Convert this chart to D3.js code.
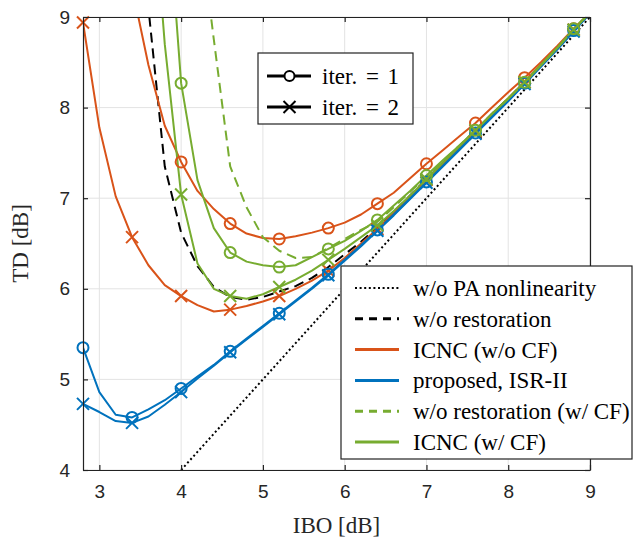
<!DOCTYPE html>
<html>
<head>
<meta charset="utf-8">
<script src="https://cdn.jsdelivr.net/npm/d3@7"></script>
<style>
  body { margin: 0; background: #fff; }
  svg { display: block; }
</style>
</head>
<body>
<div id="chart"></div>
<script>
// IBO grid (dB), one point every 0.2 dB; markers every third point
const ibo = [2.8, 3.0, 3.2, 3.4, 3.6, 3.8, 4.0, 4.2, 4.4, 4.6, 4.8, 5.0, 5.2, 5.4, 5.6, 5.8,
             6.0, 6.2, 6.4, 6.6, 6.8, 7.0, 7.2, 7.4, 7.6, 7.8, 8.0, 8.2, 8.4, 8.6, 8.8, 9.0];

const noPaX = [4, 9];
const noPaY = [4, 9];

const woRestoration = [null, null, null, 12.0, 9.1, 7.35, 6.62, 6.25, 6.02, 5.91, 5.88, 5.91, 5.97, 6.03, 6.12, 6.24,
                       6.38, 6.52, 6.68, 6.85, 7.03, 7.21, 7.39, 7.57, 7.75, 7.93, 8.1, 8.28, 8.47, 8.66, 8.86, 9.05];

const icncIter1 = [null, null, null, 9.33, 8.47, 7.8, 7.40, 7.08, 6.88, 6.72, 6.61, 6.56, 6.55, 6.58, 6.62, 6.67,
                   6.73, 6.82, 6.94, 7.06, 7.22, 7.38, 7.53, 7.68, 7.83, 8.0, 8.17, 8.33, 8.5, 8.68, 8.87, 9.04];
const icncIter2 = [8.94, 7.78, 7.02, 6.57, 6.26, 6.04, 5.92, 5.82, 5.75, 5.77, 5.81, 5.86, 5.92, 6.0, 6.09, 6.2,
                   6.34, 6.5, 6.66, 6.84, 7.02, 7.2, 7.38, 7.56, 7.74, 7.92, 8.1, 8.28, 8.47, 8.66, 8.86, 9.05];

const isrIter1 = [5.35, 4.86, 4.61, 4.58, 4.67, 4.77, 4.90, 5.03, 5.16, 5.31, 5.45, 5.59, 5.73, 5.87, 6.01, 6.16,
                  6.32, 6.48, 6.65, 6.82, 7.0, 7.18, 7.36, 7.54, 7.72, 7.9, 8.08, 8.27, 8.46, 8.65, 8.85, 9.04];
const isrIter2 = [4.73, 4.64, 4.54, 4.52, 4.59, 4.72, 4.86, 5.01, 5.15, 5.30, 5.44, 5.58, 5.72, 5.86, 6.0, 6.15,
                  6.31, 6.47, 6.64, 6.81, 6.99, 7.17, 7.35, 7.53, 7.71, 7.89, 8.07, 8.26, 8.45, 8.64, 8.84, 9.04];

const woRestorationCF = [null, null, null, null, null, null, null, 10.2, 8.75, 7.35, 6.9, 6.57, 6.42, 6.34, 6.35, 6.45,
                         6.55, 6.65, 6.74, 6.9, 7.07, 7.24, 7.41, 7.58, 7.75, 7.93, 8.1, 8.28, 8.47, 8.66, 8.86, 9.05];

const icncCFIter1 = [null, null, null, null, null, 10.7, 8.27, 7.2, 6.67, 6.40, 6.30, 6.26, 6.24, 6.26, 6.35, 6.44,
                     6.53, 6.64, 6.76, 6.92, 7.08, 7.25, 7.42, 7.58, 7.75, 7.93, 8.1, 8.28, 8.47, 8.66, 8.87, 9.05];
const icncCFIter2 = [null, null, null, null, 11.0, 8.7, 7.04, 6.28, 6.0, 5.92, 5.89, 5.94, 6.02, 6.1, 6.2, 6.32,
                     6.44, 6.57, 6.7, 6.86, 7.03, 7.21, 7.39, 7.57, 7.75, 7.93, 8.1, 8.28, 8.47, 8.66, 8.86, 9.05];

const xTicks = [3, 4, 5, 6, 7, 8, 9];
const yTicks = [4, 5, 6, 7, 8, 9];

const legendLabels = ['w/o PA nonlinearity', 'w/o restoration', 'ICNC (w/o CF)',
                      'proposed, ISR-II', 'w/o restoration (w/ CF)', 'ICNC (w/ CF)'];
const iterLabels = ['iter. = 1', 'iter. = 2'];

const colors = {
    black: '#000000',
    orange: '#D95319',
    blue: '#0072BD',
    green: '#77AC30'
};

const width = 643, height = 540;
const margin = { top: 17, right: 53, bottom: 70, left: 83 };

const svg = d3.select('#chart')
    .append('svg')
    .attr('width', width)
    .attr('height', height);

const x = d3.scaleLinear().domain([2.8, 9]).range([margin.left, width - margin.right]);
const y = d3.scaleLinear().domain([4, 9]).range([height - margin.bottom, margin.top]);

// grid
svg.append('g')
    .selectAll('line')
    .data(xTicks)
    .enter()
    .append('line')
    .attr('x1', d => x(d)).attr('x2', d => x(d))
    .attr('y1', y(4)).attr('y2', y(9))
    .attr('stroke', '#e3e3e3')
    .attr('stroke-width', 1);

svg.append('g')
    .selectAll('line')
    .data(yTicks)
    .enter()
    .append('line')
    .attr('x1', x(2.8)).attr('x2', x(9))
    .attr('y1', d => y(d)).attr('y2', d => y(d))
    .attr('stroke', '#e3e3e3')
    .attr('stroke-width', 1);

svg.append('clipPath')
    .attr('id', 'plotClip')
    .append('rect')
    .attr('x', x(2.8))
    .attr('y', y(9))
    .attr('width', x(9) - x(2.8))
    .attr('height', y(4) - y(9));

const plot = svg.append('g').attr('clip-path', 'url(#plotClip)');
const markerLayer = svg.append('g');

const line = d3.line()
    .defined(d => d[1] !== null)
    .x(d => x(d[0]))
    .y(d => y(d[1]));

function pairs(values) {
    return ibo.map((v, i) => [v, values[i]]);
}

function drawSeries(values, color, dash, marker) {
    plot.append('path')
        .datum(pairs(values))
        .attr('d', line)
        .attr('fill', 'none')
        .attr('stroke', color)
        .attr('stroke-width', 2)
        .attr('stroke-dasharray', dash)
        .attr('stroke-linejoin', 'round');

    if (!marker) return;
    // markers are not clipped (like matlab) but only those inside the y range
    const pts = pairs(values).filter((d, i) => i % 3 === 0 && d[1] !== null && d[1] <= 9);
    drawMarkers(markerLayer, pts.map(d => [x(d[0]), y(d[1])]), color, marker);
}

function drawMarkers(g, pts, color, marker) {
    if (marker === 'o') {
        g.append('g')
            .selectAll('circle')
            .data(pts)
            .enter()
            .append('circle')
            .attr('cx', d => d[0])
            .attr('cy', d => d[1])
            .attr('r', 5.5)
            .attr('fill', 'none')
            .attr('stroke', color)
            .attr('stroke-width', 2);
    } else {
        const s = 6;
        g.append('g')
            .selectAll('path')
            .data(pts)
            .enter()
            .append('path')
            .attr('d', d => 'M' + (d[0] - s) + ',' + (d[1] - s) + 'L' + (d[0] + s) + ',' + (d[1] + s) +
                            'M' + (d[0] - s) + ',' + (d[1] + s) + 'L' + (d[0] + s) + ',' + (d[1] - s))
            .attr('fill', 'none')
            .attr('stroke', color)
            .attr('stroke-width', 2);
    }
}

// w/o PA nonlinearity
plot.append('path')
    .datum(noPaX.map((v, i) => [v, noPaY[i]]))
    .attr('d', line)
    .attr('fill', 'none')
    .attr('stroke', colors.black)
    .attr('stroke-width', 2)
    .attr('stroke-dasharray', '2,2.6');

drawSeries(woRestoration, colors.black, '10,6', null);
drawSeries(icncIter1, colors.orange, null, 'o');
drawSeries(icncIter2, colors.orange, null, 'x');
drawSeries(isrIter1, colors.blue, null, 'o');
drawSeries(isrIter2, colors.blue, null, 'x');
drawSeries(woRestorationCF, colors.green, '10,6', null);
drawSeries(icncCFIter1, colors.green, null, 'o');
drawSeries(icncCFIter2, colors.green, null, 'x');

// axes box with mirrored inward ticks
const axisFont = '"Liberation Sans", Arial, sans-serif';
const labelFont = '"Liberation Serif", "Times New Roman", serif';
const fmt = d3.format('d');

const axBottom = svg.append('g')
    .attr('transform', 'translate(0,' + y(4) + ')')
    .call(d3.axisBottom(x).tickValues(xTicks).tickFormat(fmt).tickSizeInner(-5).tickSizeOuter(0).tickPadding(15));
const axTop = svg.append('g')
    .attr('transform', 'translate(0,' + y(9) + ')')
    .call(d3.axisTop(x).tickValues(xTicks).tickSizeInner(-5).tickSizeOuter(0).tickFormat(''));
const axLeft = svg.append('g')
    .attr('transform', 'translate(' + x(2.8) + ',0)')
    .call(d3.axisLeft(y).tickValues(yTicks).tickFormat(fmt).tickSizeInner(-5).tickSizeOuter(0).tickPadding(13));
const axRight = svg.append('g')
    .attr('transform', 'translate(' + x(9) + ',0)')
    .call(d3.axisRight(y).tickValues(yTicks).tickSizeInner(-5).tickSizeOuter(0).tickFormat(''));

[axBottom, axTop, axLeft, axRight].forEach(function(a) {
    a.select('.domain').attr('stroke', '#222').attr('stroke-width', 1.2);
    a.selectAll('.tick line').attr('stroke', '#222').attr('stroke-width', 1.2);
    a.selectAll('.tick text')
        .attr('fill', '#262626')
        .style('font-family', axisFont)
        .style('font-size', '19px');
});

svg.append('text')
    .attr('x', (x(2.8) + x(9)) / 2)
    .attr('y', 533)
    .attr('text-anchor', 'middle')
    .style('font-family', labelFont)
    .style('font-size', '23px')
    .attr('fill', '#262626')
    .text('IBO [dB]');

svg.append('text')
    .attr('transform', 'translate(28,' + ((y(4) + y(9)) / 2) + ') rotate(-90)')
    .attr('text-anchor', 'middle')
    .style('font-family', labelFont)
    .style('font-size', '23px')
    .attr('fill', '#262626')
    .text('TD [dB]');

// iteration legend
const leg1 = svg.append('g');
leg1.append('rect')
    .attr('x', 258).attr('y', 53)
    .attr('width', 155).attr('height', 71)
    .attr('fill', '#fff')
    .attr('stroke', '#222')
    .attr('stroke-width', 1.2);

iterLabels.forEach(function(label, i) {
    const ly = 76 + i * 31;
    leg1.append('line')
        .attr('x1', 267).attr('x2', 311)
        .attr('y1', ly).attr('y2', ly)
        .attr('stroke', colors.black)
        .attr('stroke-width', 3);
    drawMarkers(leg1, [[289.5, ly]], colors.black, i === 0 ? 'o' : 'x');
    leg1.append('text')
        .attr('x', 322)
        .attr('y', ly)
        .attr('dy', '0.35em')
        .style('font-family', labelFont)
        .style('font-size', '23px')
        .style('word-spacing', '3px')
        .attr('fill', '#000')
        .text(label);
});
leg1.selectAll('circle').attr('fill', '#fff').attr('r', 5);

// method legend
const leg2 = svg.append('g');
leg2.append('rect')
    .attr('x', 341).attr('y', 266)
    .attr('width', 291).attr('height', 193)
    .attr('fill', '#fff')
    .attr('stroke', '#222')
    .attr('stroke-width', 1.2);

const legendStyles = [
    { color: colors.black, dash: '2,2.6', w: 2 },
    { color: colors.black, dash: '8,6', w: 3 },
    { color: colors.orange, dash: null, w: 3 },
    { color: colors.blue, dash: null, w: 3 },
    { color: colors.green, dash: '8,6', w: 3 },
    { color: colors.green, dash: null, w: 3 }
];

legendLabels.forEach(function(label, i) {
    const ly = 288 + i * 30.8;
    leg2.append('line')
        .attr('x1', 355).attr('x2', 399)
        .attr('y1', ly).attr('y2', ly)
        .attr('stroke', legendStyles[i].color)
        .attr('stroke-width', legendStyles[i].w)
        .attr('stroke-dasharray', legendStyles[i].dash);
    leg2.append('text')
        .attr('x', 413)
        .attr('y', ly)
        .attr('dy', '0.35em')
        .style('font-family', labelFont)
        .style('font-size', '23px')
        .attr('fill', '#000')
        .text(label);
});
</script>
</body>
</html>
